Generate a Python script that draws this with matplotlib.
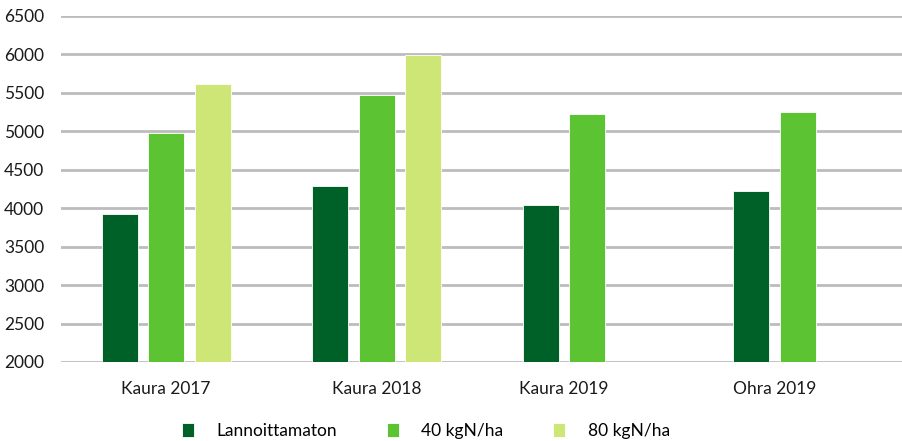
import matplotlib.pyplot as plt
import numpy as np

categories = ["Kaura 2017", "Kaura 2018", "Kaura 2019", "Ohra 2019"]
series_names = ["Lannoittamaton", "40 kgN/ha", "80 kgN/ha"]
lannoittamaton = [3920, 4290, 4040, 4225]
n40 = [4975, 5470, 5220, 5245]
n80 = [5620, 5990, np.nan, np.nan]
colors = ["#006128", "#5cc433", "#cde676"]

plt.rcParams['font.family'] = ['Lato', 'DejaVu Sans']

fig = plt.figure(figsize=(9.03, 4.41), dpi=100)
ax = fig.add_axes([61 / 903, 1 - 362 / 441, 842 / 903, 346 / 441])

x = np.arange(len(categories))
offsets = [-0.221, 0.0, 0.221]
width = 0.171
all_series = [lannoittamaton, n40, n80]
for vals, off, col, name in zip(all_series, offsets, colors, series_names):
    ax.bar(x + off, vals, width, bottom=0, color=col, label=name,
           edgecolor="white", linewidth=0.6, zorder=3)

# tick labels centred under the bars that are present
label_pos = []
for i in range(len(categories)):
    present = [x[i] + off for vals, off in zip(all_series, offsets)
               if not np.isnan(vals[i])]
    label_pos.append(np.mean(present))

ax.set_xlim(-0.5, len(categories) - 0.5)
ax.set_ylim(2000, 6500)
ax.set_yticks(range(2000, 6501, 500))
ax.set_xticks(label_pos)
ax.set_xticklabels(categories)
ax.yaxis.grid(True, color="#bcbcbc", linewidth=2, zorder=0)
ax.set_axisbelow(True)
for s in ax.spines.values():
    s.set_visible(False)
ax.tick_params(axis="both", length=0, labelsize=12.5, colors="#1a1a1a")
ax.tick_params(axis="x", pad=14)
ax.tick_params(axis="y", pad=12)

handles, labels = ax.get_legend_handles_labels()
fig.legend(handles, labels, loc="center", bbox_to_anchor=(0.4717, 1 - 431 / 441),
           ncol=3, frameon=False, fontsize=12.5, handlelength=0.7, handleheight=0.9,
           columnspacing=2.85, handletextpad=1.3)

fig.savefig("out.png", dpi=100)
